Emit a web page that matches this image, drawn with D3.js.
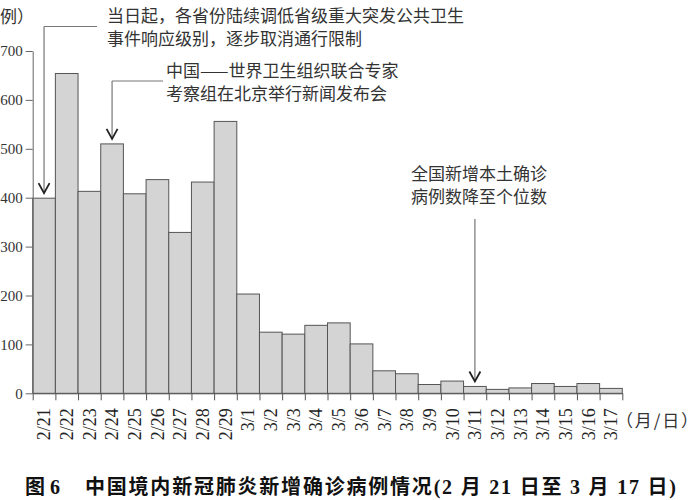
<!DOCTYPE html>
<html>
<head>
<meta charset="utf-8">
<script src="https://cdn.jsdelivr.net/npm/d3@7"></script>
<style>
  body { margin: 0; background: #fff; }
  svg { display: block; }
</style>
</head>
<body>
<div id="chart"></div>
<script>
var w = 700;
var h = 500;
var serif = "'Liberation Serif', 'Times New Roman', 'DejaVu Serif', serif";
var cjk = "'Noto Sans CJK SC', sans-serif";

// daily new confirmed cases, 2/21 - 3/17
var dates = ["2/21","2/22","2/23","2/24","2/25","2/26","2/27","2/28","2/29",
             "3/1","3/2","3/3","3/4","3/5","3/6","3/7","3/8","3/9","3/10",
             "3/11","3/12","3/13","3/14","3/15","3/16","3/17"];
var cases = [399, 654, 413, 510, 408, 437, 329, 432, 556,
             203, 125, 121, 139, 144, 101, 46, 40, 18, 25,
             14, 8, 11, 20, 14, 20, 10];
var yTicks = [0, 100, 200, 300, 400, 500, 600, 700];

// annotations: which bar the arrow points at, text lines
var noteDates = ["2/21", "2/24", "3/11"];
var noteLines = [
  ["当日起，各省份陆续调低省级重大突发公共卫生", "事件响应级别，逐步取消通行限制"],
  ["中国——世界卫生组织联合专家", "考察组在北京举行新闻发布会"],
  ["全国新增本土确诊", "病例数降至个位数"]
];

var svg = d3.select("#chart").append("svg")
            .attr("width", w)
            .attr("height", h);

var x = d3.scaleBand()
          .domain(dates)
          .range([32.7, 622.3])
          .padding(0);
var xi = d3.scaleLinear()
           .domain([0, dates.length])
           .range(x.range());
var y = d3.scaleLinear()
          .domain([0, 700])
          .range([393.3, 51]);

// bars
svg.selectAll("rect.bar")
   .data(cases)
   .enter()
   .append("rect")
   .attr("class", "bar")
   .attr("x", function(d, i) { return x(dates[i]); })
   .attr("y", function(d) { return y(d); })
   .attr("width", x.bandwidth())
   .attr("height", function(d) { return y(0) - y(d); })
   .style("fill", "#d4d4d4")
   .attr("stroke", "#555")
   .attr("stroke-width", 1);

// y axis
var yAxis = svg.append("g")
   .attr("transform", "translate(" + x.range()[0] + ",0)")
   .attr("font-family", serif)
   .call(d3.axisLeft(y).tickValues(yTicks).tickSize(7).tickSizeOuter(0).tickPadding(3));
yAxis.attr("font-family", serif).attr("font-size", 15);
yAxis.selectAll("path, line").attr("stroke", "#666");
yAxis.selectAll("text")
     .style("font-family", serif)
     .style("font-size", "15px")
     .attr("fill", "#333");

// x axis: ticks on bar edges
var xTickAxis = svg.append("g")
   .attr("transform", "translate(0," + y(0) + ")")
   .call(d3.axisBottom(xi).tickValues(d3.range(dates.length + 1)).tickFormat("").tickSize(7).tickSizeOuter(0));
xTickAxis.selectAll("path, line").attr("stroke", "#555");

// x labels, rotated
var xLab = svg.append("g")
   .attr("transform", "translate(0," + y(0) + ")")
   .call(d3.axisBottom(x).tickSize(0).tickSizeOuter(0));
xLab.attr("font-family", serif).attr("font-size", 18);
xLab.select(".domain").remove();
xLab.selectAll("text")
    .attr("transform", "rotate(-90)")
    .attr("x", -15)
    .attr("y", 0)
    .attr("dy", "0.35em")
    .style("text-anchor", "end")
    .style("font-family", serif)
    .style("font-size", "18px")
    .attr("fill", "#222");

// unit labels
svg.append("text")
   .attr("x", 34)
   .attr("y", 17)
   .attr("dy", "0.35em")
   .style("text-anchor", "end")
   .style("font-family", cjk)
   .style("font-size", "17px")
   .attr("fill", "#333")
   .text("（例）");

svg.append("text")
   .attr("x", 616)
   .attr("y", 421)
   .attr("dy", "0.35em")
   .attr("textLength", 82)
   .attr("lengthAdjust", "spacing")
   .style("font-family", cjk)
   .style("font-size", "17px")
   .attr("fill", "#333")
   .text("（月/日）");

// annotation arrows
var noteText = [[107, 16], [166, 71], [411, 174]];
var elbow = [[26.5, 97], [81, 163], null];
var lineGap = 23;

noteDates.forEach(function(dt, k) {
  var i = dates.indexOf(dt);
  var cx = x(dt) + x.bandwidth() / 2;
  var tip = y(cases[i]) - 5;
  var top;
  if (elbow[k]) {
    top = elbow[k][0];
    svg.append("line")
       .attr("x1", cx).attr("y1", top)
       .attr("x2", elbow[k][1]).attr("y2", top)
       .attr("stroke", "#777").attr("stroke-width", 1.2);
  } else {
    top = noteText[k][1] + lineGap + 22;
  }
  svg.append("line")
     .attr("x1", cx).attr("y1", top)
     .attr("x2", cx).attr("y2", tip)
     .attr("stroke", "#777").attr("stroke-width", 1.2);
  svg.append("path")
     .attr("d", "M" + (cx - 5.5) + "," + (tip - 10) + "L" + cx + "," + tip + "L" + (cx + 5.5) + "," + (tip - 10))
     .attr("fill", "none")
     .attr("stroke", "#222")
     .attr("stroke-width", 1.8);

  noteLines[k].forEach(function(s, j) {
    svg.append("text")
       .attr("x", noteText[k][0])
       .attr("y", noteText[k][1] + j * lineGap)
       .attr("dy", "0.35em")
       .style("font-family", cjk)
       .style("font-size", "17px")
       .attr("fill", "#333")
       .text(s);
  });
});

// caption
svg.append("text")
   .attr("x", 25)
   .attr("y", 487)
   .attr("dy", "0.35em")
   .style("font-family", "'Liberation Serif', 'Times New Roman', 'Noto Sans CJK SC', serif")
   .style("font-size", "20px")
   .style("font-weight", "bold")
   .attr("fill", "#111")
   .text("图 6");

svg.append("text")
   .attr("x", 85)
   .attr("y", 487)
   .attr("dy", "0.35em")
   .attr("textLength", 591)
   .attr("lengthAdjust", "spacing")
   .style("font-family", "'Liberation Serif', 'Times New Roman', 'Noto Sans CJK SC', serif")
   .style("font-size", "20px")
   .style("font-weight", "bold")
   .attr("fill", "#111")
   .text("中国境内新冠肺炎新增确诊病例情况(2 月 21 日至 3 月 17 日)");
</script>
</body>
</html>
